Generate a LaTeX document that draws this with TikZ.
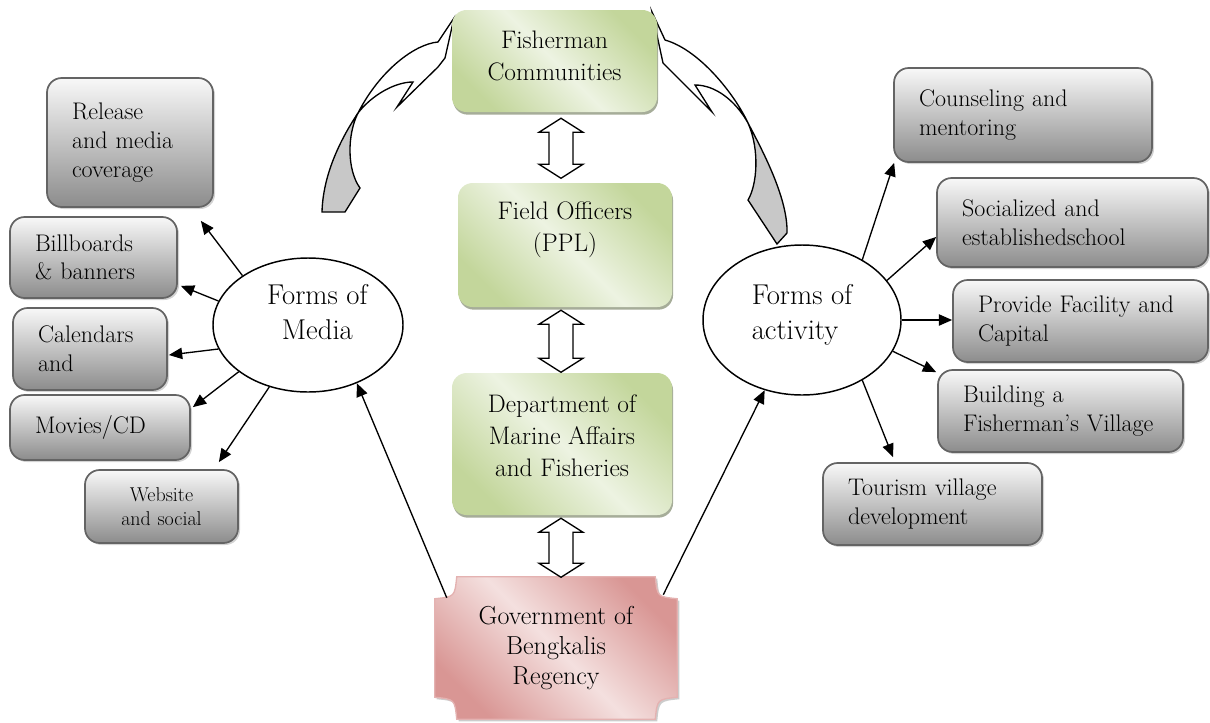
\documentclass[tikz,border=0pt]{standalone}
\usetikzlibrary{shadows,arrows.meta,calc,backgrounds,shapes.geometric}
\definecolor{gdark}{RGB}{195,214,155}
\definecolor{glight}{RGB}{237,243,226}
\definecolor{pdark}{RGB}{217,150,148}
\definecolor{plight}{RGB}{244,224,223}
\definecolor{boxline}{RGB}{100,100,100}
\definecolor{grayb}{RGB}{140,140,140}
\definecolor{grayt}{RGB}{248,248,248}
\definecolor{ribbon}{RGB}{200,200,200}
\tikzset{
  graybox/.style={rectangle, rounded corners=11pt, draw=boxline, line width=1.3pt,
    top color=grayt, bottom color=grayb,
    drop shadow={shadow xshift=1.5pt, shadow yshift=-1.5pt, opacity=0.35},
    align=left, inner xsep=18.75pt, inner ysep=0pt,
    font=\fontsize{18}{21.5}\selectfont},
  greenbox/.style={rectangle, rounded corners=11pt,
    top color=gdark, bottom color=gdark, middle color=glight, shading angle=-45,
    drop shadow={shadow xshift=0.8pt, shadow yshift=-2pt, fill=gdark!55!black, opacity=0.6},
    align=center, inner sep=0pt,
    font=\fontsize{19}{24}\selectfont},
  govbox/.style={rectangle, align=center, inner sep=0pt,
    font=\fontsize{19.5}{22.5}\selectfont},
  plaque/.style={top color=pdark, bottom color=pdark, middle color=plight, shading angle=-45,
    draw={rgb,255:red,228;green,178;blue,177}, line width=1pt,
    drop shadow={shadow xshift=1.5pt, shadow yshift=-1.5pt, opacity=0.4}},
  formell/.style={ellipse, draw, line width=1.1pt, fill=white, inner sep=0pt,
    font=\fontsize{21.5}{26}\selectfont},
  conn/.style={-{Triangle[length=10pt,width=8.5pt]}, line width=1pt},
  blockarrow/.style={draw, line width=1pt, fill=white, line join=miter},
  ribbonline/.style={draw, line width=1pt, line join=miter},
}
\begin{document}
\begin{tikzpicture}[x=0.75pt,y=-0.75pt]
\useasboundingbox (0,0) rectangle (1210,722);

% ribbon arrows
\path[ribbonline, fill=white] (454,18) -- (438,42) .. controls (415,44) and (380,70) .. (358,113)
  .. controls (372,95) and (395,82) .. (413,82) -- (397,107) -- (438,67) -- (445,58) -- cycle;
\path[ribbonline, fill=ribbon] (358,113) .. controls (340,140) and (323,175) .. (322,212)
  -- (345,212) -- (360,188) .. controls (347,170) and (347,135) .. (358,113) -- cycle;
\path[ribbonline, fill=white] (652,12) -- (665,40) .. controls (700,50) and (735,95) .. (748,123)
  .. controls (735,100) and (715,85) .. (695,85) -- (712,112) -- (663,63) -- cycle;
\path[ribbonline, fill=ribbon] (748,123) .. controls (765,155) and (788,200) .. (787,233)
  -- (777,244) -- (748,200) .. controls (757,185) and (760,150) .. (748,123) -- cycle;

% central column
\node[greenbox, minimum width=153.75pt, minimum height=76.5pt] (fc) at (554.5,61)
  {Fisherman\\Communities\\[-16pt]};
\node[greenbox, minimum width=160.5pt, minimum height=93pt] (fo) at (565,245)
  {Field Officers\\(PPL)\\[4pt]};
\node[greenbox, minimum width=165pt, minimum height=106.5pt] (dep) at (562,444)
  {Department of\\Marine Affairs\\and Fisheries\\[-12pt]};
\node[govbox, minimum width=181.5pt, minimum height=106.5pt] (gov) at (556,648)
  {Government of\\Bengkalis\\Regency};
\begin{scope}[on background layer]
\path[plaque] ($(gov.north west)+(22,0)$) -- ($(gov.north east)+(-22,0)$)
  .. controls ($(gov.north east)+(-20,20)$) .. ($(gov.north east)+(0,22)$)
  -- ($(gov.south east)+(0,-22)$)
  .. controls ($(gov.south east)+(-20,-20)$) .. ($(gov.south east)+(-22,0)$)
  -- ($(gov.south west)+(22,0)$)
  .. controls ($(gov.south west)+(20,-20)$) .. ($(gov.south west)+(0,-22)$)
  -- ($(gov.north west)+(0,22)$)
  .. controls ($(gov.north west)+(20,20)$) .. ($(gov.north west)+(22,0)$) -- cycle;
\end{scope}

% block double arrows
\path[blockarrow] ($(fc.south)+(6.5,6)$) -- ++(22,14) -- ++(-10,0) -- ++(0,32) -- ++(10,0)
  -- ++(-22,14) -- ++(-22,-14) -- ++(10,0) -- ++(0,-32) -- ++(-10,0) -- cycle;
\path[blockarrow] ($(fo.south)+(-4,3)$) -- ++(22,14) -- ++(-10,0) -- ++(0,34) -- ++(10,0)
  -- ++(-22,14) -- ++(-22,-14) -- ++(10,0) -- ++(0,-34) -- ++(-10,0) -- cycle;
\path[blockarrow] ($(dep.south)+(-1,3)$) -- ++(22,14) -- ++(-10,0) -- ++(0,31) -- ++(10,0)
  -- ++(-22,14) -- ++(-22,-14) -- ++(10,0) -- ++(0,-31) -- ++(-10,0) -- cycle;

% ellipses
\node[formell, minimum width=142.5pt, minimum height=100.5pt, align=center] (media) at (308,325)
  {\hspace*{14pt}Forms of\\\hspace*{14pt}Media\\[-6.5pt]};
\node[formell, minimum width=148.5pt, minimum height=112.5pt, align=left] (act) at (802,320)
  {Forms of\\activity\\[-14pt]};

% left boxes
\node[graybox, text width=87pt, minimum height=96.75pt] (rel) at (130,142.5)
  {Release\\and~media\\coverage};
\node[graybox, text width=87.75pt, minimum height=60.75pt] (bb) at (93.5,257.5)
  {Billboards\\\&~banners};
\node[graybox, text width=78pt, minimum height=61.5pt] (cal) at (90,349)
  {Calendars\\and};
\node[graybox, text width=97.5pt, minimum height=48.75pt] (mov) at (100,427.5)
  {Movies/CD};
\node[graybox, text width=77.25pt, minimum height=54.75pt, align=center,
  font=\fontsize{15}{18}\selectfont] (web) at (161.5,506.5)
  {Website\\and~social};

% right boxes
\node[graybox, text width=156pt, minimum height=70.5pt] (cou) at (1023,115)
  {Counseling~and\\mentoring};
\node[graybox, text width=165.75pt, minimum height=66.75pt] (soc) at (1072.5,222.5)
  {Socialized~and\\establishedschool};
\node[graybox, text width=153.75pt, minimum height=61.5pt] (pro) at (1080.5,321)
  {Provide~Facility~and\\Capital};
\node[graybox, text width=146.25pt, minimum height=61.5pt] (bui) at (1060.5,411)
  {Building~a\\Fisherman's~Village};
\node[graybox, text width=126.75pt, minimum height=61.5pt] (tou) at (932.5,504)
  {Tourism~village\\development};

% connectors from Forms of Media
\draw[conn] (media.143) -- ($(rel.south east)+(-13,13)$);
\draw[conn] (media.165) -- ($(bb.south east)+(3,-13)$);
\draw[conn] (media.195) -- ($(cal.east)+(1,6)$);
\draw[conn] (media.214) -- ($(mov.north east)+(2,13)$);
\draw[conn] (media.238) -- ($(web.north east)+(-20,-7)$);

% connectors from Forms of activity
\draw[conn] (act.45) -- ($(cou.south west)+(1,0)$);
\draw[conn] (act.25.5) -- ($(soc.west)+(0,14.5)$);
\draw[conn] (act.east) -- (act.east -| pro.west);
\draw[conn] (act.-19.4) -- ($(bui.north west)+(-1,3)$);
\draw[conn] (act.-45) -- ($(tou.north)+(-39.5,-5)$);

% from government
\draw[conn] ($(gov.north west)+(12,21)$) -- (media.-50);
\draw[conn] ($(gov.north east)+(-14,18)$) -- (act.-118);
\end{tikzpicture}
\end{document}
